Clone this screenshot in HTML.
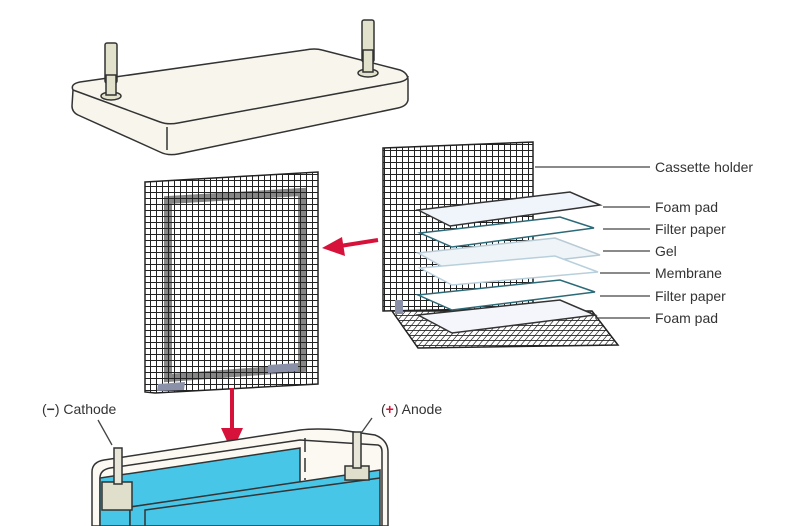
<!DOCTYPE html>
<html><head><meta charset="utf-8"><style>
html,body{margin:0;padding:0;background:#fff}
svg{display:block}
text{font-family:"Liberation Sans",sans-serif;font-size:14px;fill:#333}
</style></head><body>
<svg width="794" height="526" viewBox="0 0 794 526" xmlns="http://www.w3.org/2000/svg">
<defs>
<pattern id="g" width="6" height="6" patternUnits="userSpaceOnUse">
<rect width="6" height="6" fill="#fff"/>
<path d="M0 0H6M0 0V6" stroke="#222" stroke-width="2"/>
</pattern>
<pattern id="g2" width="6" height="5" patternUnits="userSpaceOnUse" patternTransform="skewX(-40)">
<rect width="6" height="5" fill="#fff"/>
<path d="M0 0H6M0 0V5" stroke="#222" stroke-width="1.8"/>
</pattern>
</defs>

<!-- Lid -->
<g stroke="#333" stroke-width="1.5" fill="#f7f5ec">
<path d="M73 90 Q70 84 80 82 L305 50 Q315 48 322 50 L400 70 Q408 73 408 80 L408 100 Q407 106 398 108 L178 154 Q168 156 160 152 L78 115 Q72 112 72 106 Z"/>
<path d="M73 90 L160 122 Q168 125 178 123 L400 82 Q408 80 408 76" fill="none"/>
<path d="M167 127 L167 150" fill="none"/>
<rect x="105" y="43" width="12" height="40" fill="#e2e2cc" rx="2"/>
<ellipse cx="111" cy="96" rx="10" ry="4" fill="#e2e2cc"/>
<rect x="106" y="75" width="10" height="20" fill="#e2e2cc"/>
<rect x="362" y="20" width="12" height="42" fill="#e2e2cc" rx="2"/>
<ellipse cx="368" cy="73" rx="10" ry="4" fill="#e2e2cc"/>
<rect x="363" y="50" width="10" height="22" fill="#e2e2cc"/>
</g>

<!-- Left cassette -->
<path d="M145 182 L318 172 L318 384 L155 393 L145 392 Z" fill="url(#g)" stroke="#222" stroke-width="1.5"/>
<path d="M168 200 L302 192 L302 368 L168 378 Z" fill="none" stroke="#222" stroke-width="8" opacity="0.55"/>
<path d="M158 384 L185 382 L184 390 L157 391 Z M268 365 L298 363 L298 371 L268 373 Z" fill="#8a90a8"/>

<!-- arrows -->
<path d="M378 240 L340 246" stroke="#d6123a" stroke-width="4"/>
<path d="M322 248 L342 237 L345 256 Z" fill="#d6123a"/>
<path d="M232 388 L232 430" stroke="#d6123a" stroke-width="4"/>
<path d="M221 428 L243 428 L232 452 Z" fill="#d6123a"/>

<!-- Right cassette -->
<path d="M383 148 L533 142 L533 308 L383 311 Z" fill="url(#g)" stroke="#222" stroke-width="1.5"/>
<path d="M392 311 L592 311 L618 345 L418 348 Z" fill="url(#g2)" stroke="#222" stroke-width="1.5"/>
<rect x="395" y="300" width="8" height="14" fill="#8a90a8"/>
<g stroke-width="1.5">
<path d="M418 210 L570 192 L600 205 L450 226 Z" fill="#f0f4fb" stroke="#333"/>
<path d="M420 233 L560 217 L594 228 L452 247 Z" fill="#fff" stroke="#2c6a78"/>
<path d="M418 253 L555 238 L600 255 L452 272 Z" fill="#eef4f8" stroke="#b8cad4"/>
<path d="M420 268 L555 256 L598 272 L452 285 Z" fill="#fff" stroke="#b8d0dc"/>
<path d="M418 295 L560 280 L595 292 L452 310 Z" fill="#fff" stroke="#2c6a78"/>
<path d="M418 315 L560 300 L595 315 L452 333 Z" fill="#f4f6fb" stroke="#333"/>
</g>

<!-- leaders -->
<g stroke="#444" stroke-width="1.3">
<path d="M535 167H650M603 207H650M603 229H650M603 251H650M600 273H650M600 296H650M595 318H650"/>
</g>
<text x="655" y="172">Cassette holder</text>
<text x="655" y="212">Foam pad</text>
<text x="655" y="234">Filter paper</text>
<text x="655" y="256">Gel</text>
<text x="655" y="278">Membrane</text>
<text x="655" y="301">Filter paper</text>
<text x="655" y="323">Foam pad</text>

<!-- Tank -->
<text x="42" y="414">(<tspan fill="#333" font-weight="bold">−</tspan>) Cathode</text>
<text x="381" y="414">(<tspan fill="#d6123a" font-weight="bold">+</tspan>) Anode</text>
<path d="M98 420 L112 445 M372 418 L362 432" stroke="#444" stroke-width="1.3"/>
<g stroke="#333" stroke-width="1.5">
<path d="M92 526 L92 472 Q92 462 104 460 L300 430 Q316 428 340 430 L375 435 Q388 440 388 452 L388 526 Z" fill="#fbf9f2"/>
<path d="M100 526 L100 478 Q100 470 110 468 L300 440 L378 445 Q382 446 382 452 L382 526" fill="none"/>
<path d="M100 526 L100 478 L300 448 L300 483 L130 507 L130 526 Z" fill="#47c6e8"/>
<path d="M130 507 L380 470 L380 526 L130 526 Z" fill="#47c6e8"/>
<path d="M145 526 L145 510 L380 478" fill="none"/>
<path d="M305 438 L305 480" stroke-dasharray="14 6" fill="none"/>
<rect x="102" y="482" width="30" height="28" fill="#e0dfcc"/>
<rect x="345" y="466" width="24" height="14" fill="#e0dfcc"/>
<rect x="114" y="448" width="8" height="36" fill="#e8e6d8"/>
<rect x="353" y="432" width="8" height="36" fill="#e8e6d8"/>
</g>
</svg>
</body></html>
